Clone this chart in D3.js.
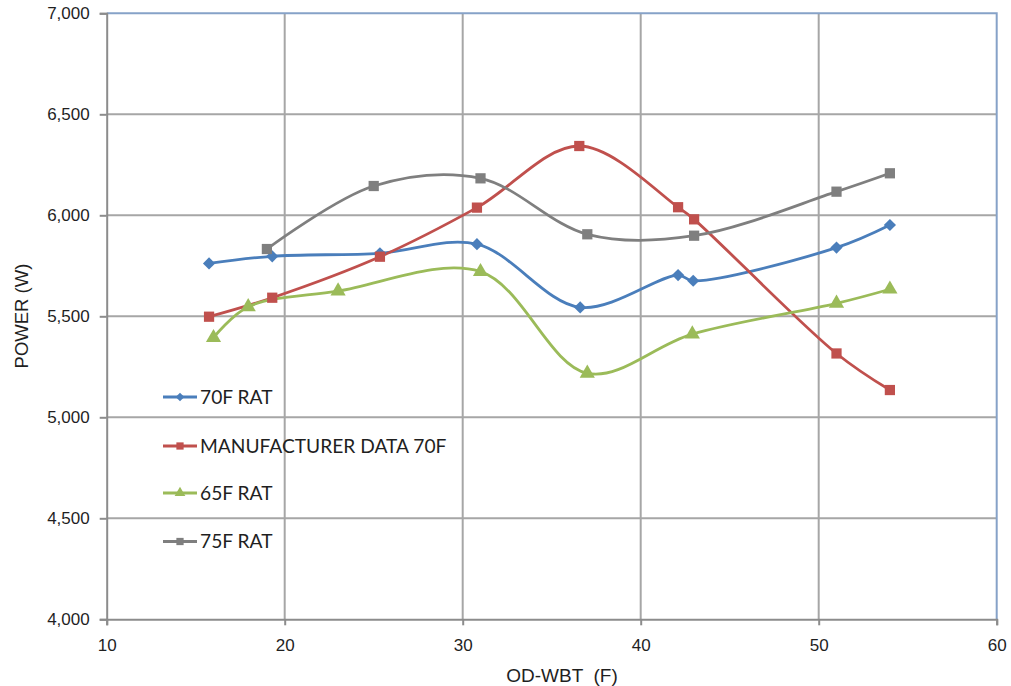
<!DOCTYPE html>
<html>
<head>
<meta charset="utf-8">
<script src="https://cdn.jsdelivr.net/npm/d3@7"></script>
<style>
  html, body { margin: 0; padding: 0; background: #fff; }
  svg { display: block; }
</style>
</head>
<body>
<svg id="chart" width="1011" height="686"></svg>
<script>
// Outdoor wet-bulb temperature (F) and measured power (W) for each test series
const rat70X = [15.75, 19.3, 25.35, 30.8, 36.6, 42.1, 42.95, 51.0, 54.0];
const rat70Y = [5762, 5797, 5812, 5857, 5544, 5704, 5676, 5840, 5952];

const mfrX = [15.75, 19.3, 25.35, 30.8, 36.55, 42.1, 43.0, 51.0, 54.0];
const mfrY = [5498, 5592, 5795, 6038, 6343, 6040, 5980, 5316, 5135];

const rat65X = [16.0, 17.95, 23.0, 31.0, 37.0, 42.9, 51.0, 54.0];
const rat65Y = [5394, 5547, 5625, 5721, 5218, 5412, 5564, 5634];

const rat75X = [19.0, 25.0, 31.0, 37.0, 43.0, 51.0, 54.0];
const rat75Y = [5833, 6145, 6183, 5906, 5899, 6117, 6208];

const xTicks = [10, 20, 30, 40, 50, 60];
const yTicks = [4000, 4500, 5000, 5500, 6000, 6500, 7000];

const seriesNames = ["70F RAT", "MANUFACTURER DATA 70F", "65F RAT", "75F RAT"];
const seriesColors = ["#4a7ebb", "#c0504d", "#9bbb59", "#7f7f7f"];
const seriesSymbols = ["diamond", "square", "triangle", "square"];

const series = [
  { name: seriesNames[0], xs: rat70X, ys: rat70Y },
  { name: seriesNames[1], xs: mfrX, ys: mfrY },
  { name: seriesNames[2], xs: rat65X, ys: rat65Y },
  { name: seriesNames[3], xs: rat75X, ys: rat75Y }
].map((s, i) => ({
  ...s,
  color: seriesColors[i],
  symbol: seriesSymbols[i],
  points: s.xs.map((x, j) => ({ x, y: s.ys[j] }))
}));

const svg = d3.select("#chart");
const plot = { left: 106.7, right: 996.7, top: 13.3, bottom: 619.3 };

const x = d3.scaleLinear().domain([10, 60]).range([plot.left, plot.right]);
const y = d3.scaleLinear().domain([4000, 7000]).range([plot.bottom, plot.top]);

const gridColor = "#a6a6a6";
const frameColor = "#86a2c8";
const textColor = "#1f1f1f";
const tickFont = "'Liberation Sans', Arial, sans-serif";

// Gridlines
const grid = svg.append("g");
grid.selectAll(".gx").data(xTicks.slice(1, -1)).join("line")
  .attr("x1", d => x(d)).attr("x2", d => x(d))
  .attr("y1", plot.top).attr("y2", plot.bottom)
  .attr("stroke", gridColor).attr("stroke-width", 2);
grid.selectAll(".gy").data(yTicks.slice(1, -1)).join("line")
  .attr("x1", plot.left).attr("x2", plot.right)
  .attr("y1", d => y(d)).attr("y2", d => y(d))
  .attr("stroke", gridColor).attr("stroke-width", 2);

// Top and right frame
svg.append("path")
  .attr("d", `M${plot.left},${plot.top}H${plot.right}V${plot.bottom}`)
  .attr("fill", "none").attr("stroke", frameColor).attr("stroke-width", 2);

// Axes
const xAxis = d3.axisBottom(x).tickValues(xTicks).tickSize(6).tickPadding(20)
  .tickFormat(d3.format("d"));
const yAxis = d3.axisLeft(y).tickValues(yTicks).tickSize(7).tickPadding(10)
  .tickFormat(d3.format(","));

const gx = svg.append("g").attr("transform", `translate(0,${plot.bottom})`).call(xAxis);
const gy = svg.append("g").attr("transform", `translate(${plot.left},0)`).call(yAxis);

[gx, gy].forEach(g => {
  g.select(".domain").attr("stroke", "#8c8c8c").attr("stroke-width", 2);
  g.selectAll(".tick line").attr("stroke", "#8c8c8c").attr("stroke-width", 2);
  g.selectAll(".tick text")
    .attr("fill", textColor)
    .style("font-family", tickFont)
    .style("font-size", "17px");
});
// x tick labels sit on a baseline ~33px below the axis
gx.selectAll(".tick text").attr("y", 32).attr("dy", 0);

// Axis titles
svg.append("text")
  .attr("transform", `translate(28,${316}) rotate(-90)`)
  .attr("text-anchor", "middle")
  .attr("fill", textColor)
  .style("font-family", tickFont)
  .style("font-size", "18.5px")
  .text("POWER (W)");

svg.append("text")
  .attr("x", 562)
  .attr("y", 682)
  .attr("text-anchor", "middle")
  .attr("fill", textColor)
  .style("font-family", tickFont)
  .style("font-size", "19px")
  .style("white-space", "pre")
  .text("OD-WBT  (F)");

// Smoothed series lines
const line = d3.line()
  .x(d => x(d.x)).y(d => y(d.y))
  .curve(d3.curveCatmullRom.alpha(0.5));

const symbolType = { diamond: d3.symbolDiamond2, square: d3.symbolSquare, triangle: d3.symbolTriangle };
const symbolSize = { diamond: 95, square: 105, triangle: 100 };

const gSeries = svg.append("g");
series.forEach(s => {
  gSeries.append("path")
    .datum(s.points)
    .attr("d", line)
    .attr("fill", "none")
    .attr("stroke", s.color)
    .attr("stroke-width", 2.8)
    .attr("stroke-linejoin", "round");
});
series.forEach(s => {
  gSeries.append("g").selectAll("path").data(s.points).join("path")
    .attr("transform", d => `translate(${x(d.x)},${y(d.y)})`)
    .attr("d", d3.symbol(symbolType[s.symbol], symbolSize[s.symbol]))
    .attr("fill", s.color);
});

// Legend
const legendYs = [397, 446, 493, 541.5];
const legend = svg.append("g");
series.forEach((s, i) => {
  const ly = legendYs[i];
  legend.append("line")
    .attr("x1", 163).attr("x2", 197)
    .attr("y1", ly).attr("y2", ly)
    .attr("stroke", s.color).attr("stroke-width", 2.8);
  legend.append("path")
    .attr("transform", `translate(180,${ly})`)
    .attr("d", d3.symbol(symbolType[s.symbol], symbolSize[s.symbol] * 0.5))
    .attr("fill", s.color);
  legend.append("text")
    .attr("x", 200).attr("y", ly)
    .attr("dy", "0.36em")
    .attr("fill", textColor)
    .style("font-family", "Lato, 'Liberation Sans', sans-serif")
    .style("font-size", "19.2px")
    .text(s.name);
});
</script>
</body>
</html>
